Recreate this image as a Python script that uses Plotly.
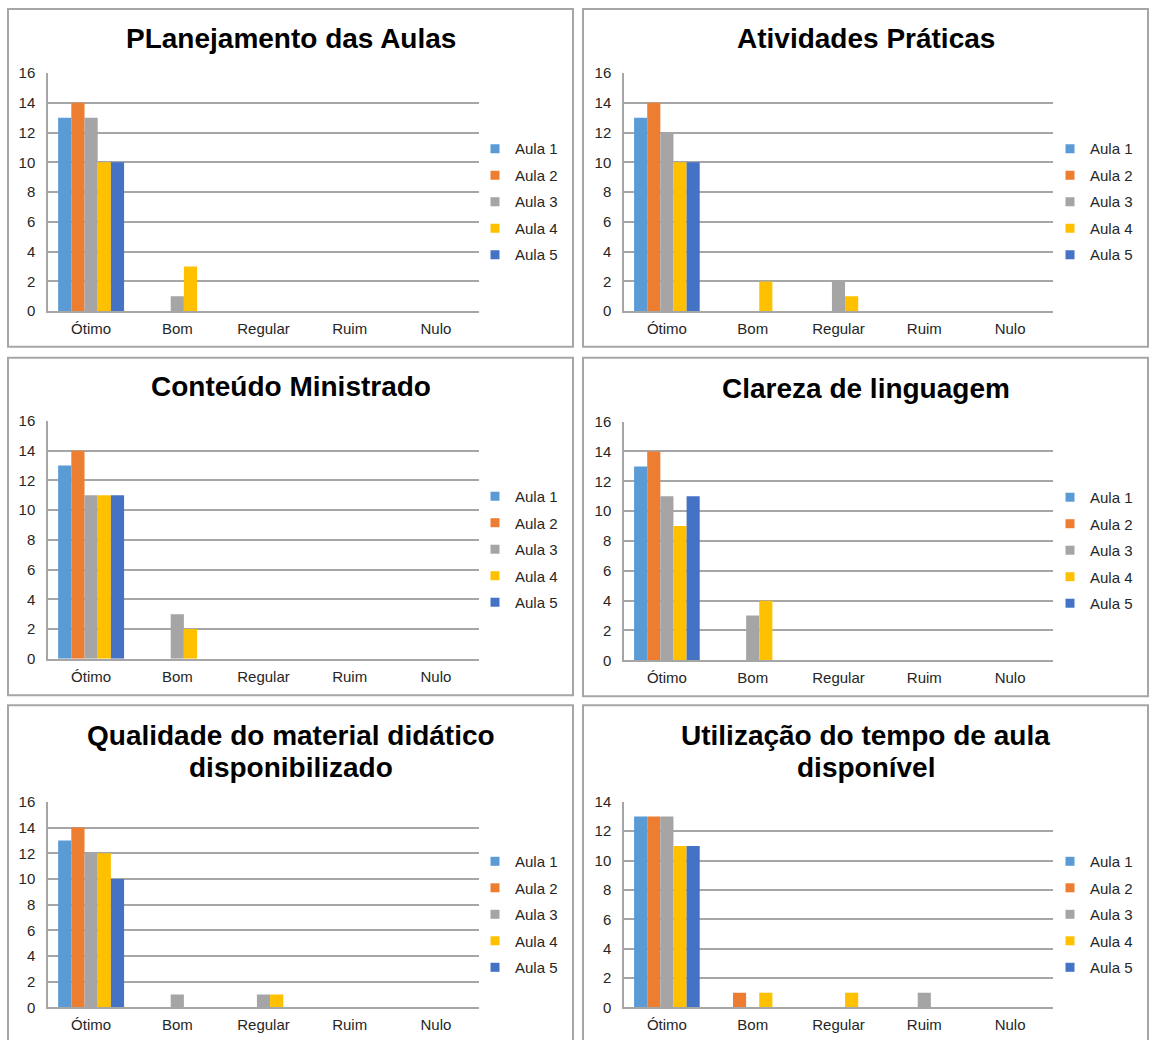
import plotly.graph_objects as go

W, H = 1150, 1040

categories = ["Ótimo", "Bom", "Regular", "Ruim", "Nulo"]
series_names = ["Aula 1", "Aula 2", "Aula 3", "Aula 4", "Aula 5"]
series_colors = ["#5B9BD5", "#ED7D31", "#A5A5A5", "#FFC000", "#4472C4"]

# values per series (Aula 1..5), in category order
planejamento = [[13, 0, 0, 0, 0], [14, 0, 0, 0, 0], [13, 1, 0, 0, 0], [10, 3, 0, 0, 0], [10, 0, 0, 0, 0]]
atividades = [[13, 0, 0, 0, 0], [14, 0, 0, 0, 0], [12, 0, 2, 0, 0], [10, 2, 1, 0, 0], [10, 0, 0, 0, 0]]
conteudo = [[13, 0, 0, 0, 0], [14, 0, 0, 0, 0], [11, 3, 0, 0, 0], [11, 2, 0, 0, 0], [11, 0, 0, 0, 0]]
clareza = [[13, 0, 0, 0, 0], [14, 0, 0, 0, 0], [11, 3, 0, 0, 0], [9, 4, 0, 0, 0], [11, 0, 0, 0, 0]]
qualidade = [[13, 0, 0, 0, 0], [14, 0, 0, 0, 0], [12, 1, 1, 0, 0], [12, 0, 1, 0, 0], [10, 0, 0, 0, 0]]
utilizacao = [[13, 0, 0, 0, 0], [13, 1, 0, 0, 0], [13, 0, 0, 1, 0], [11, 1, 1, 0, 0], [11, 0, 0, 0, 0]]

chart_titles = [
    ["PLanejamento das Aulas"],
    ["Atividades Práticas"],
    ["Conteúdo Ministrado"],
    ["Clareza de linguagem"],
    ["Qualidade do material didático", "disponibilizado"],
    ["Utilização do tempo de aula", "disponível"],
]
chart_data = [planejamento, atividades, conteudo, clareza, qualidade, utilizacao]
y_max = [16, 16, 16, 16, 16, 14]

# layout in pixels (as measured on the target picture)
panels = [  # border box x0, y0, x1, y1
    (8, 8, 573, 346), (583, 8, 1148, 346),
    (8, 357, 573, 695), (583, 357, 1148, 696),
    (8, 705, 573, 1060), (583, 705, 1148, 1060),
]
plots = [  # plot area x0, x1, ytop, ybottom
    (48, 479, 72, 310.5), (624, 1053, 72, 310.5),
    (48, 479, 420.3, 658.5), (624, 1053, 421, 660),
    (48, 479, 801.7, 1007.5), (624, 1053, 801.7, 1007.5),
]
title_y = [[37.5], [37.5], [385.5], [387.5], [735, 767], [735, 767]]
legend_pos = [(475, 201), (1050, 201), (475, 549), (1050, 550), (475, 914.5), (1050, 914.5)]

# the rendered page shows the figure slightly compressed vertically; compensate
OFF, SC = 7.9, 0.9848

def px(x):
    return x / W

def py(y):
    return 1 - ((y - OFF) / SC) / H

GRID = "#A6A6A6"
TXT = "#262626"
FONT = "Liberation Sans, Arial, sans-serif"

fig = go.Figure()
layout = dict(
    width=W, height=H, margin=dict(l=0, r=0, t=0, b=0),
    paper_bgcolor="white", plot_bgcolor="white",
    barmode="group", bargap=0.235, bargroupgap=0,
    font=dict(family=FONT, size=15, color=TXT),
    shapes=[], annotations=[],
)

for i in range(6):
    sfx = "" if i == 0 else str(i + 1)
    xa, ya = "x" + sfx, "y" + sfx
    leg = "legend" if i == 0 else "legend" + str(i + 1)
    for s in range(5):
        fig.add_trace(go.Bar(
            x=categories, y=chart_data[i][s], name=series_names[s],
            marker=dict(color=series_colors[s], line=dict(width=0)),
            xaxis=xa, yaxis=ya, showlegend=False,
        ))
        fig.add_trace(go.Scatter(
            x=[None], y=[None], mode="markers", name=series_names[s],
            marker=dict(symbol="square", size=9, color=series_colors[s]),
            xaxis=xa, yaxis=ya, legend=leg, legendgroup=f"g{i}_{s}", showlegend=True,
        ))
    x0, x1, yt, yb = plots[i]
    layout["xaxis" + sfx] = dict(
        domain=[px(x0), px(x1)], anchor=ya, showgrid=False, zeroline=False,
        showline=True, linecolor=GRID, linewidth=1.5,
        tickfont=dict(size=15, color=TXT), ticks="", ticklabelstandoff=3,
        fixedrange=True,
    )
    layout["yaxis" + sfx] = dict(
        domain=[py(yb), py(yt)], anchor=xa, range=[0, y_max[i]], dtick=2,
        showgrid=True, gridcolor=GRID, gridwidth=1.5, zeroline=False,
        showline=True, linecolor=GRID, linewidth=1.5,
        tickfont=dict(size=15, color=TXT), ticks="", ticklabelstandoff=8,
        fixedrange=True,
    )
    lx, ly = legend_pos[i]
    layout[leg] = dict(
        x=px(lx), y=py(ly), xanchor="left", yanchor="middle",
        font=dict(family=FONT, size=15, color=TXT),
        bgcolor="rgba(0,0,0,0)", borderwidth=0, tracegroupgap=4,
        itemclick=False, itemdoubleclick=False,
    )
    bx0, by0, bx1, by1 = panels[i]
    layout["shapes"].append(dict(
        type="rect", xref="paper", yref="paper",
        x0=px(bx0), x1=px(bx1), y0=py(by1), y1=py(by0),
        line=dict(color="#A6A6A6", width=2), fillcolor="rgba(0,0,0,0)", layer="below",
    ))
    cx = (bx0 + bx1) / 2
    for line_text, ty in zip(chart_titles[i], title_y[i]):
        layout["annotations"].append(dict(
            text="<b>" + line_text + "</b>", xref="paper", yref="paper",
            x=px(cx), y=py(ty), xanchor="center", yanchor="middle", showarrow=False,
            font=dict(family=FONT, size=28, color="#000000"),
        ))

fig.update_layout(**layout)
fig.write_html("out.html")
